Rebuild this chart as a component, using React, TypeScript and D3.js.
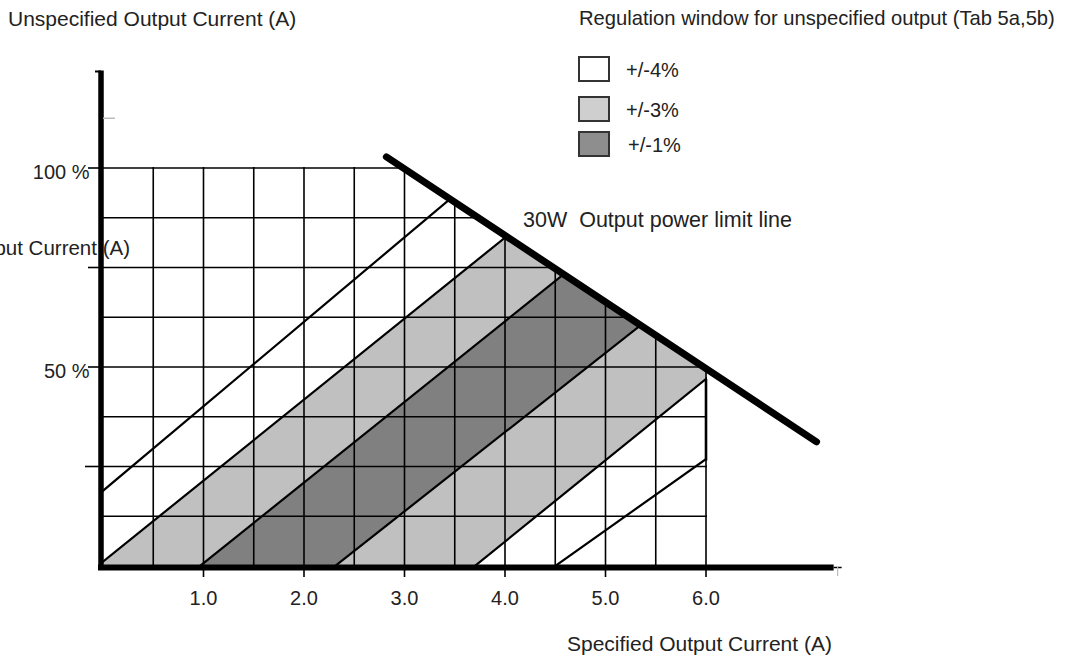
import React, { useEffect, useRef } from 'react'
import * as d3 from 'd3'

type Pt = [number, number]

// x: specified output current (A), y: unspecified output current (% of max)
const xTicks = [1, 2, 3, 4, 5, 6]
const xTickLabels = ['1.0', '2.0', '3.0', '4.0', '5.0', '6.0']
const gridX = [0.5, 1, 1.5, 2, 2.5, 3, 3.5, 4, 4.5, 5, 5.5, 6]
const gridY = [12.5, 25, 37.5, 50, 62.5, 75, 87.5, 100]
const yTickMarks = [25, 50, 75, 100]
const yTickValues = [100, 50]
const yTickLabels = ['100 %', '50 %']
const xAxisMax = 7.27
const yAxisMax = 124.5
const yGreyTick = 112.5

// 30W power limit line
const limitLine: Pt[] = [[2.82, 102.8], [7.1, 31.2]]

// boundaries between regulation windows
const bandLines: Pt[][] = [
  [[0, 18.9], [3.42, 91.5]],
  [[0, 1.1], [3.97, 81.9]],
  [[0.965, 0], [4.515, 71.9]],
  [[2.31, 0], [5.29, 59.3]],
  [[3.7, 0], [6.0, 47.0]],
  [[4.5, 0], [5.98, 26.5]]
]
// shaded windows: between bandLines[from] and bandLines[from + 1]
const bandFrom = [1, 2, 3]
const bandLevel = ['+/-3%', '+/-1%', '+/-3%']
const edgeAt6: Pt[] = [[6, 47.0], [6, 26.5]]

const legendLevels = ['+/-4%', '+/-3%', '+/-1%']
const bandFill: Record<string, string> = { '+/-4%': '#ffffff', '+/-3%': '#c0c0c0', '+/-1%': '#808080' }
const legendFill: Record<string, string> = { '+/-4%': '#ffffff', '+/-3%': '#cfcfcf', '+/-1%': '#8e8e8e' }

const FONT = '"Liberation Sans", Arial, sans-serif'
const INK = '#222'

const App: React.FC = () => {
  const svgRef = useRef<SVGSVGElement>(null)

  useEffect(() => {
    if (!svgRef.current) return
    const svg = d3.select(svgRef.current)
    svg.selectAll('*').remove()

    const x = d3.scaleLinear().domain([0, 6]).range([103, 706])
    const y = d3.scaleLinear().domain([0, 100]).range([566, 168])
    const line = d3.line<Pt>().x(d => x(d[0])).y(d => y(d[1]))

    // extend a boundary line to a given y (data units)
    const xAt = (l: Pt[], v: number) =>
      d3.scaleLinear().domain([l[0][1], l[1][1]]).range([l[0][0], l[1][0]])(v)
    const stretch = (l: Pt[]): Pt[] => [[xAt(l, -10), -10], [xAt(l, 140), 140]]

    const defs = svg.append('defs')
    defs.append('clipPath').attr('id', 'plotRect')
      .append('rect')
      .attr('x', x(0))
      .attr('y', y(100) - 1)
      .attr('width', x(6) - x(0) + 1)
      .attr('height', y(0) - y(100) + 1)
    defs.append('clipPath').attr('id', 'underLimit')
      .append('path')
      .attr('d', line([
        [0, limitLine[0][1]], limitLine[0], limitLine[1],
        [limitLine[1][0], -10], [0, -10]
      ]) + 'Z')

    const plot = svg.append('g').attr('clip-path', 'url(#plotRect)')
      .append('g').attr('clip-path', 'url(#underLimit)')

    // regulation windows
    bandFrom.forEach((f, i) => {
      const a = stretch(bandLines[f])
      const b = stretch(bandLines[f + 1])
      plot.append('path')
        .attr('d', line([a[0], a[1], b[1], b[0]]) + 'Z')
        .attr('fill', bandFill[bandLevel[i]])
    })

    // grid
    gridX.forEach(v => {
      plot.append('line')
        .attr('x1', x(v)).attr('x2', x(v))
        .attr('y1', y(0)).attr('y2', y(110))
        .attr('stroke', '#000').attr('stroke-width', 1.6)
    })
    gridY.forEach(v => {
      plot.append('line')
        .attr('x1', x(0)).attr('x2', x(7))
        .attr('y1', y(v)).attr('y2', y(v))
        .attr('stroke', '#000').attr('stroke-width', 1.6)
    })

    // window boundaries
    bandLines.forEach(l => {
      plot.append('path')
        .attr('d', line(stretch(l)))
        .attr('fill', 'none')
        .attr('stroke', '#000')
        .attr('stroke-width', 2.2)
    })

    svg.append('path')
      .attr('d', line(edgeAt6))
      .attr('stroke', '#000')
      .attr('stroke-width', 2.6)

    // axes
    svg.append('line')
      .attr('x1', x(0) - 2).attr('x2', x(0) - 2)
      .attr('y1', y(yAxisMax)).attr('y2', y(0) + 4)
      .attr('stroke', '#000').attr('stroke-width', 5.5)
    svg.append('line')
      .attr('x1', x(0) - 5).attr('x2', x(xAxisMax))
      .attr('y1', y(0) + 1.5).attr('y2', y(0) + 1.5)
      .attr('stroke', '#000').attr('stroke-width', 6)
    svg.append('line')
      .attr('x1', x(xAxisMax)).attr('x2', x(xAxisMax) + 8)
      .attr('y1', y(0) + 1.5).attr('y2', y(0) + 1.5)
      .attr('stroke', '#000').attr('stroke-width', 1.5)
    svg.append('line')
      .attr('x1', x(xAxisMax) + 4).attr('x2', x(xAxisMax) + 4)
      .attr('y1', y(0) + 1).attr('y2', y(0) + 10)
      .attr('stroke', '#bbb').attr('stroke-width', 1.2)
    svg.append('line')
      .attr('x1', x(0) - 8).attr('x2', x(0) - 2)
      .attr('y1', y(yAxisMax) + 1).attr('y2', y(yAxisMax) + 1)
      .attr('stroke', '#000').attr('stroke-width', 2)
    svg.append('line')
      .attr('x1', x(0)).attr('x2', x(0) + 12)
      .attr('y1', y(yGreyTick)).attr('y2', y(yGreyTick))
      .attr('stroke', '#bbb').attr('stroke-width', 1.5)

    yTickMarks.forEach((v, i) => {
      svg.append('line')
        .attr('x1', x(0) - (i === 0 ? 18 : 15)).attr('x2', x(0) - 2)
        .attr('y1', y(v)).attr('y2', y(v))
        .attr('stroke', '#000').attr('stroke-width', 1.6)
    })
    xTicks.forEach(v => {
      svg.append('line')
        .attr('x1', x(v)).attr('x2', x(v))
        .attr('y1', y(0)).attr('y2', y(0) + 11)
        .attr('stroke', '#000').attr('stroke-width', 1.6)
    })

    // power limit line
    svg.append('path')
      .attr('d', line(limitLine))
      .attr('stroke', '#000')
      .attr('stroke-width', 7)
      .attr('stroke-linecap', 'round')

    const text = (s: string, tx: number, ty: number, size: number, anchor = 'start') =>
      svg.append('text')
        .attr('x', tx).attr('y', ty)
        .attr('font-family', FONT)
        .attr('font-size', size)
        .attr('fill', INK)
        .attr('text-anchor', anchor)
        .style('white-space', 'pre')
        .text(s)

    xTicks.forEach((v, i) => text(xTickLabels[i], x(v), 605, 20, 'middle'))
    yTickValues.forEach((v, i) => text(yTickLabels[i], x(0) - 13.5, y(v) + 10.5, 20, 'end'))

    text('Unspecified Output Current (A)', 8, 26, 21)
    text('Output Current (A)', 130, 255, 20.5, 'end')
    text('Specified Output Current (A)', 567, 651, 21)
    text('Regulation window for unspecified output (Tab 5a,5b)', 579, 25, 20.2)
    text('30W  Output power limit line', 523, 227, 21.5)

    // legend
    const legendTop = [57, 97, 132]
    legendLevels.forEach((lvl, i) => {
      svg.append('rect')
        .attr('x', 579).attr('y', legendTop[i])
        .attr('width', 30).attr('height', 24)
        .attr('fill', legendFill[lvl])
        .attr('stroke', '#333').attr('stroke-width', 2)
      text(lvl, i === 2 ? 628 : 626, legendTop[i] + 19.5, 20)
    })
  }, [])

  return (
    <svg
      ref={svgRef}
      width={1092}
      height={663}
      style={{ position: 'absolute', left: 0, top: 0, background: '#fff' }}
    />
  )
}

export default App
